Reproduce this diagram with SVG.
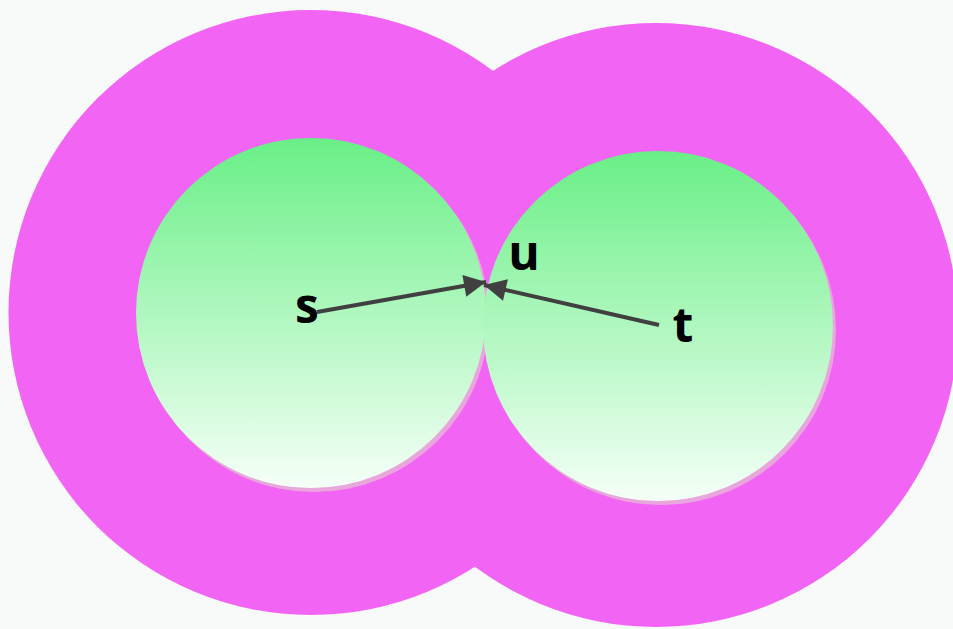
<svg xmlns="http://www.w3.org/2000/svg" width="953" height="629" viewBox="0 0 953 629">
  <defs>
    <linearGradient id="g" x1="0" y1="0" x2="0" y2="1">
      <stop offset="0" stop-color="#69ef86"/>
      <stop offset="1" stop-color="#f5fff7"/>
    </linearGradient>
    <marker id="arr" markerUnits="userSpaceOnUse" markerWidth="24" markerHeight="24" viewBox="0 0 24 24" refX="23" refY="12" orient="auto">
      <path d="M1,1 L23,12 L1,23 z" fill="#404040"/>
    </marker>
    <style>
      .outer { fill: #f264f3; }
      .inner { fill: url(#g); }
      .shadow { fill: #e8a6dc; }
      .lbl { font-family: "Open Sans", "DejaVu Sans", sans-serif; font-weight: bold; font-size: 48px; fill: #000; text-anchor: middle; }
      .edge { stroke: #404040; stroke-width: 4; fill: none; }
    </style>
  </defs>
  <rect width="953" height="629" fill="#f8f9f9"/>
  <g id="cluster-s">
    <circle class="outer" cx="311" cy="312.5" r="302.5"/>
  </g>
  <g id="cluster-t">
    <circle class="outer" cx="656" cy="325" r="302"/>
  </g>
  <g id="node-s">
    <circle class="shadow" cx="314" cy="317" r="175"/>
    <circle class="inner" cx="311" cy="313" r="175"/>
    <text class="lbl" x="307" y="323">s</text>
  </g>
  <g id="node-t">
    <circle class="shadow" cx="661" cy="330" r="175"/>
    <circle class="inner" cx="658" cy="326" r="175"/>
    <text class="lbl" x="683" y="342">t</text>
  </g>
  <g id="node-u">
    <text class="lbl" x="524" y="270">u</text>
  </g>
  <g id="connectors">
    <line class="edge" x1="317" y1="312" x2="486" y2="282" marker-end="url(#arr)"/>
    <line class="edge" x1="659" y1="325" x2="484" y2="285" marker-end="url(#arr)"/>
  </g>
</svg>
